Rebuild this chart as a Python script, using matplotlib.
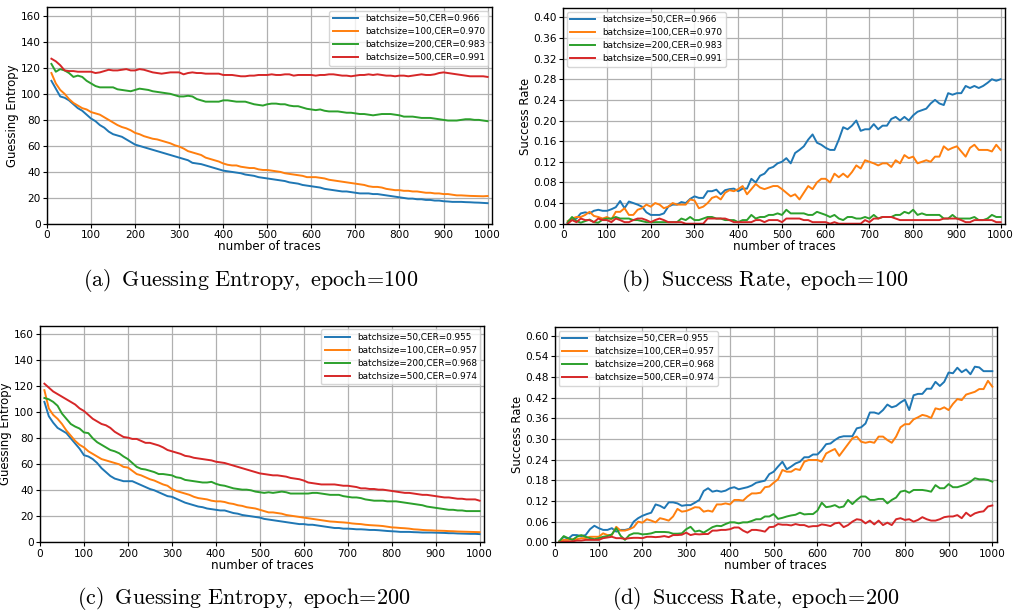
import matplotlib
matplotlib.use("Agg")
import matplotlib.pyplot as plt
import numpy as np

# number of traces (every 10 traces)
traces = np.arange(10, 1001, 10)

# ---- (a) guessing entropy, epoch=100
ge100_bs50 = [110, 104, 98, 97, 95, 92, 89, 87, 84, 81, 79, 76, 74, 71, 69, 68, 67, 65, 63, 61,
              60, 59, 58, 57, 56, 55, 54, 53, 52, 51, 50, 49, 47, 46.5, 46, 45, 44, 43, 42, 41,
              40.5, 40, 39.5, 39, 38, 37.5, 37, 36, 35.5, 35, 34.5, 34, 33.5, 33, 32, 31.5, 31, 30, 29.5, 29,
              28.5, 28, 27, 26.5, 26, 25.5, 25, 25, 24.5, 24, 23.5, 23.5, 23.5, 23, 23, 22.5, 22, 21.5, 21, 20.5,
              20, 19.5, 19.5, 19, 19, 18.5, 18.5, 18, 18, 17.5, 17.3, 17, 17, 17, 16.8, 16.7, 16.5, 16.4, 16.2, 16]
ge100_bs100 = [116, 108, 103, 100, 96, 93, 91, 89, 88, 86, 85, 84, 82, 80, 78, 76, 74.5, 73.5, 72, 70,
               69, 67.5, 66.5, 65.5, 65, 64, 63, 62, 60.5, 59.5, 58, 56, 55, 54, 53, 51, 50, 49, 48, 46.5,
               45.5, 45, 45, 44, 43.5, 43, 43, 42, 41.5, 41.5, 41, 40.5, 40, 39, 38.5, 38, 37.5, 37, 36, 36,
               36, 35.5, 35, 34, 33.5, 33, 32.5, 32, 31.5, 31, 30.5, 30, 29, 28.5, 28.5, 28, 27, 26.5, 26, 26,
               25.5, 25.5, 25, 25, 24.5, 24, 24, 23.5, 23.5, 23, 23, 22.5, 22, 22, 21.8, 21.6, 21.5, 21.4, 21.3, 21.5]
ge100_bs200 = [123, 117, 119, 118, 116, 113, 114, 113, 110, 108, 106, 105, 105, 105, 105, 103.5, 103, 102.5, 102, 103,
               104, 103.5, 103, 102, 101.5, 101, 100.5, 100, 99, 98, 98, 98.5, 98, 96, 95, 94, 94, 94, 94, 95,
               95, 94.5, 94, 94, 94, 93, 92, 91.5, 91, 92, 92.5, 92.5, 92, 92, 91, 90.5, 90.5, 89.5, 88.5, 88,
               87.5, 88, 87, 86.5, 86.5, 86.5, 86, 85.5, 85.5, 85, 84.5, 84.5, 84, 83.5, 84, 84.5, 84.5, 84.5, 84, 83.5,
               82.5, 82.5, 82.5, 82, 81.5, 81.5, 81.5, 81, 80.5, 80, 79.5, 79.5, 79.5, 80, 80.5, 80.5, 80, 80, 79.5, 79]
ge100_bs500 = [127, 125, 122, 118, 117.5, 117.5, 117, 117, 117, 117, 116, 116.5, 117.5, 118.5, 118, 118, 118.5, 119, 118, 118,
               119, 118.5, 117.5, 116.5, 116, 115.5, 116, 116.5, 116.5, 116.5, 115, 116, 116.5, 116, 116, 115.5, 115.5, 115.5, 115.5, 114.5,
               114.5, 114.5, 114, 113.5, 113.5, 114, 114, 114.5, 114.5, 114.5, 115, 114.5, 114.5, 115, 115, 114, 114.5, 114.5, 114.5, 114.5,
               114, 114.5, 114.5, 115, 115, 114.5, 114, 114, 113.5, 114, 114.5, 114.5, 115, 114.5, 115, 114.5, 114, 114, 113.5, 114,
               114, 113.5, 114, 114.5, 115, 114.5, 114.5, 115, 116, 116.5, 116, 115.5, 115, 114.5, 114, 113.5, 113.5, 113.5, 113.5, 113]

# ---- (b) success rate, epoch=100
sr100_bs50 = [0.002, 0.008, 0.010, 0.020, 0.022, 0.020, 0.025, 0.027, 0.025, 0.025, 0.028, 0.032, 0.044, 0.030, 0.043, 0.040, 0.037, 0.033, 0.022, 0.017,
              0.017, 0.017, 0.020, 0.033, 0.037, 0.037, 0.042, 0.040, 0.048, 0.053, 0.050, 0.050, 0.063, 0.063, 0.066, 0.057, 0.065, 0.067, 0.068, 0.063,
              0.068, 0.068, 0.087, 0.080, 0.093, 0.097, 0.107, 0.110, 0.117, 0.120, 0.127, 0.117, 0.137, 0.143, 0.150, 0.163, 0.173, 0.157, 0.153, 0.147,
              0.143, 0.143, 0.163, 0.187, 0.183, 0.190, 0.200, 0.180, 0.183, 0.183, 0.193, 0.183, 0.190, 0.190, 0.203, 0.207, 0.200, 0.207, 0.200, 0.210,
              0.217, 0.220, 0.223, 0.233, 0.240, 0.233, 0.230, 0.253, 0.250, 0.253, 0.253, 0.267, 0.263, 0.267, 0.263, 0.267, 0.273, 0.280, 0.277, 0.280]
sr100_bs100 = [0.005, 0.010, 0.013, 0.013, 0.017, 0.023, 0.015, 0.013, 0.010, 0.013, 0.008, 0.023, 0.023, 0.030, 0.017, 0.017, 0.027, 0.030, 0.037, 0.033,
               0.040, 0.037, 0.030, 0.033, 0.040, 0.037, 0.037, 0.037, 0.047, 0.045, 0.030, 0.033, 0.040, 0.050, 0.053, 0.047, 0.060, 0.065, 0.063, 0.067,
               0.073, 0.057, 0.067, 0.077, 0.070, 0.067, 0.070, 0.073, 0.073, 0.067, 0.060, 0.053, 0.057, 0.047, 0.060, 0.073, 0.067, 0.080, 0.087, 0.087,
               0.080, 0.097, 0.090, 0.097, 0.090, 0.100, 0.113, 0.107, 0.123, 0.120, 0.117, 0.113, 0.117, 0.117, 0.110, 0.123, 0.117, 0.133, 0.127, 0.130,
               0.117, 0.120, 0.123, 0.120, 0.130, 0.130, 0.150, 0.143, 0.147, 0.150, 0.140, 0.130, 0.147, 0.153, 0.143, 0.143, 0.143, 0.140, 0.153, 0.143]
sr100_bs200 = [0.003, 0.013, 0.005, 0.002, 0.005, 0.008, 0.003, 0.002, 0.008, 0.010, 0.010, 0.013, 0.010, 0.010, 0.010, 0.007, 0.007, 0.005, 0.003, 0.003,
               0.003, 0.003, 0.003, 0.003, 0.003, 0.003, 0.010, 0.007, 0.013, 0.007, 0.007, 0.010, 0.013, 0.013, 0.010, 0.010, 0.007, 0.007, 0.007, 0.003,
               0.007, 0.007, 0.017, 0.010, 0.013, 0.013, 0.017, 0.017, 0.020, 0.017, 0.027, 0.020, 0.020, 0.020, 0.020, 0.017, 0.017, 0.023, 0.020, 0.017,
               0.013, 0.017, 0.010, 0.007, 0.013, 0.013, 0.010, 0.010, 0.013, 0.010, 0.017, 0.010, 0.013, 0.013, 0.013, 0.017, 0.017, 0.023, 0.020, 0.027,
               0.017, 0.020, 0.017, 0.017, 0.017, 0.017, 0.010, 0.010, 0.017, 0.010, 0.010, 0.010, 0.010, 0.013, 0.007, 0.007, 0.010, 0.017, 0.013, 0.013]
sr100_bs500 = [0.000, 0.007, 0.003, 0.010, 0.007, 0.007, 0.003, 0.010, 0.007, 0.007, 0.003, 0.010, 0.007, 0.003, 0.003, 0.007, 0.010, 0.010, 0.007, 0.003,
               0.007, 0.010, 0.007, 0.003, 0.003, 0.003, 0.003, 0.000, 0.000, 0.000, 0.000, 0.000, 0.010, 0.010, 0.010, 0.010, 0.010, 0.007, 0.003, 0.003,
               0.003, 0.003, 0.003, 0.007, 0.007, 0.003, 0.007, 0.007, 0.007, 0.003, 0.010, 0.010, 0.010, 0.010, 0.007, 0.007, 0.003, 0.003, 0.003, 0.003,
               0.000, 0.003, 0.000, 0.000, 0.000, 0.000, 0.000, 0.000, 0.007, 0.003, 0.010, 0.010, 0.013, 0.013, 0.013, 0.010, 0.007, 0.007, 0.007, 0.007,
               0.007, 0.007, 0.007, 0.007, 0.007, 0.007, 0.010, 0.010, 0.010, 0.010, 0.007, 0.003, 0.003, 0.007, 0.007, 0.007, 0.007, 0.007, 0.003, 0.003]

# ---- (c) guessing entropy, epoch=200
ge200_bs50 = [108, 97, 92, 88, 86, 84, 80, 76, 72, 67, 66, 64, 61, 57, 54, 51, 49, 48, 47, 47,
              47, 45.5, 44, 42.5, 41, 40, 38.5, 37, 35.5, 35, 33.5, 32, 30.5, 29.5, 28.5, 27.5, 27, 26, 25.5, 25,
              24.5, 24.5, 23.5, 22.5, 22, 21, 20.5, 20, 19.5, 19, 18, 17.5, 17, 16.5, 16, 15.5, 15, 14.5, 14, 14,
              13.5, 13.5, 13, 12.5, 12, 11.5, 11, 11, 10.5, 10.5, 10.3, 10, 10, 9.8, 9.5, 9.5, 9.3, 9, 8.7, 8.5,
              8.3, 8, 8, 8, 7.8, 7.7, 7.5, 7.5, 7.5, 7.4, 7.3, 7.2, 7, 7, 6.8, 6.7, 6.6, 6.5, 6.5, 6.3]
ge200_bs100 = [117, 103, 98, 95, 91, 86, 82, 78, 75, 73, 70, 68, 66, 64, 63, 62, 61, 60, 58, 57.5,
               55, 52.5, 51.5, 50, 48.5, 47.5, 46, 44.5, 43.5, 41, 39.5, 38.5, 37.5, 36.5, 35, 34, 33.5, 33, 32, 31.5,
               31.5, 31, 30, 29.5, 28.5, 28, 27, 26.5, 26, 25, 24, 23, 23, 22.5, 22, 21, 20.5, 20, 19.5, 19,
               18.5, 18, 17.5, 17, 16.5, 16, 15.8, 15.5, 15.3, 15, 14.5, 14.2, 14, 13.5, 13.2, 13, 12.8, 12.5, 12, 11.5,
               11.3, 11, 10.8, 10.5, 10, 9.8, 9.5, 9.3, 9.2, 9, 8.9, 8.8, 8.6, 8.5, 8.3, 8.2, 8.1, 8, 7.9, 7.8]
ge200_bs200 = [111, 110, 108, 105, 99, 95, 91, 89, 87.5, 84.5, 84, 80, 77, 75, 73, 71, 70, 68.5, 66, 64,
               61, 58, 56.5, 56, 55, 54, 52.5, 52.5, 52, 51.5, 50, 49.5, 48, 47.5, 47, 46.5, 46, 46, 46.5, 45,
               44, 43.5, 42.5, 41.5, 41, 40.5, 40.5, 40, 39, 38.5, 38, 38.5, 38, 38.5, 39, 38.5, 37.5, 37.5, 37.5, 37.5,
               37.5, 38, 38, 37.5, 37, 36.5, 36.5, 36.5, 35.5, 35, 34.5, 34.5, 34, 33, 32.5, 32, 32, 32, 31.5, 31.5,
               31.5, 31, 30.5, 30, 29.5, 29, 28.5, 27.5, 27, 26.5, 26, 25.5, 25, 25, 24.5, 24.5, 24, 24, 24, 24]
ge200_bs500 = [122, 119, 116, 114, 112, 110, 108, 106, 103, 101, 98, 95, 93, 91, 90, 88, 85, 83, 81, 80.5,
               79.5, 79.5, 78, 76.5, 76.5, 75.5, 74.5, 73, 71, 70, 69, 68, 66.5, 66, 65, 64.5, 64, 63.5, 63, 62,
               61.5, 61, 60, 59, 58, 57, 56, 55, 54, 53, 52.5, 52, 51.5, 51.5, 51, 50.5, 49.5, 49, 48.5, 47.5,
               46, 45.5, 45, 44.5, 44.5, 44.5, 44.5, 44, 43.5, 43.5, 43, 42.5, 41.5, 41.5, 41, 41, 40.5, 40.5, 40, 39.5,
               39, 38.5, 38, 38, 37.5, 37, 36.5, 36.5, 36, 35.5, 35, 34.5, 34.5, 34, 33.5, 33.5, 33, 33, 33, 32]

# ---- (d) success rate, epoch=200
sr200_bs50 = [0.003, 0.016, 0.010, 0.021, 0.021, 0.018, 0.021, 0.038, 0.048, 0.041, 0.036, 0.036, 0.041, 0.031, 0.036, 0.036, 0.039, 0.060, 0.070, 0.077,
              0.082, 0.086, 0.110, 0.106, 0.099, 0.116, 0.116, 0.113, 0.106, 0.108, 0.108, 0.115, 0.123, 0.149, 0.157, 0.147, 0.150, 0.147, 0.150, 0.157,
              0.160, 0.154, 0.157, 0.160, 0.165, 0.173, 0.176, 0.179, 0.198, 0.205, 0.220, 0.234, 0.212, 0.220, 0.229, 0.234, 0.247, 0.247, 0.255, 0.255,
              0.268, 0.285, 0.287, 0.297, 0.305, 0.308, 0.308, 0.308, 0.331, 0.334, 0.345, 0.377, 0.377, 0.373, 0.384, 0.400, 0.392, 0.396, 0.406, 0.414,
              0.384, 0.427, 0.431, 0.431, 0.446, 0.446, 0.466, 0.454, 0.466, 0.493, 0.491, 0.507, 0.494, 0.502, 0.488, 0.510, 0.508, 0.497, 0.497, 0.497]
sr200_bs100 = [0.003, 0.007, 0.007, 0.009, 0.009, 0.012, 0.012, 0.016, 0.016, 0.016, 0.026, 0.021, 0.021, 0.045, 0.034, 0.034, 0.038, 0.044, 0.060, 0.057,
               0.067, 0.063, 0.058, 0.070, 0.067, 0.063, 0.075, 0.097, 0.089, 0.091, 0.096, 0.102, 0.101, 0.089, 0.092, 0.089, 0.110, 0.110, 0.113, 0.110,
               0.123, 0.123, 0.121, 0.133, 0.142, 0.142, 0.144, 0.160, 0.162, 0.173, 0.183, 0.210, 0.205, 0.205, 0.213, 0.210, 0.234, 0.239, 0.239, 0.239,
               0.234, 0.258, 0.265, 0.271, 0.251, 0.268, 0.285, 0.302, 0.307, 0.292, 0.289, 0.292, 0.289, 0.307, 0.307, 0.297, 0.289, 0.307, 0.334, 0.343,
               0.343, 0.357, 0.363, 0.370, 0.367, 0.361, 0.389, 0.386, 0.392, 0.384, 0.402, 0.416, 0.413, 0.429, 0.433, 0.437, 0.445, 0.445, 0.469, 0.452]
sr200_bs200 = [0.003, 0.018, 0.012, 0.007, 0.016, 0.021, 0.016, 0.012, 0.009, 0.012, 0.016, 0.018, 0.023, 0.041, 0.019, 0.007, 0.021, 0.026, 0.026, 0.023,
               0.024, 0.026, 0.030, 0.030, 0.030, 0.029, 0.025, 0.025, 0.026, 0.038, 0.045, 0.031, 0.034, 0.028, 0.036, 0.044, 0.048, 0.047, 0.053, 0.058,
               0.058, 0.055, 0.058, 0.058, 0.062, 0.067, 0.067, 0.075, 0.075, 0.082, 0.068, 0.071, 0.075, 0.078, 0.080, 0.086, 0.081, 0.082, 0.082, 0.092,
               0.115, 0.102, 0.104, 0.108, 0.101, 0.104, 0.123, 0.111, 0.123, 0.133, 0.133, 0.123, 0.123, 0.126, 0.126, 0.113, 0.123, 0.130, 0.147, 0.150,
               0.144, 0.152, 0.152, 0.152, 0.150, 0.147, 0.166, 0.157, 0.157, 0.169, 0.160, 0.160, 0.164, 0.169, 0.176, 0.186, 0.183, 0.183, 0.181, 0.176]
sr200_bs500 = [0.000, 0.002, 0.002, 0.003, 0.005, 0.005, 0.007, 0.007, 0.007, 0.007, 0.012, 0.014, 0.016, 0.012, 0.012, 0.010, 0.012, 0.013, 0.013, 0.012,
               0.016, 0.016, 0.015, 0.016, 0.018, 0.015, 0.021, 0.021, 0.022, 0.028, 0.021, 0.024, 0.023, 0.024, 0.024, 0.034, 0.034, 0.036, 0.036, 0.038,
               0.043, 0.043, 0.034, 0.028, 0.036, 0.036, 0.034, 0.031, 0.044, 0.045, 0.053, 0.051, 0.051, 0.049, 0.053, 0.050, 0.050, 0.045, 0.047, 0.047,
               0.052, 0.050, 0.047, 0.055, 0.057, 0.044, 0.050, 0.060, 0.067, 0.065, 0.055, 0.063, 0.052, 0.063, 0.050, 0.057, 0.050, 0.067, 0.070, 0.065,
               0.067, 0.060, 0.065, 0.073, 0.067, 0.063, 0.063, 0.067, 0.073, 0.075, 0.075, 0.079, 0.070, 0.086, 0.076, 0.084, 0.088, 0.090, 0.104, 0.107]

labels_e100 = ["batchsize=50,CER=0.966", "batchsize=100,CER=0.970",
               "batchsize=200,CER=0.983", "batchsize=500,CER=0.991"]
labels_e200 = ["batchsize=50,CER=0.955", "batchsize=100,CER=0.957",
               "batchsize=200,CER=0.968", "batchsize=500,CER=0.974"]

captions = ["(a)\\;\\;Guessing\\ Entropy,\\ epoch\\!=\\!100",
            "(b)\\;\\;Success\\ Rate,\\ epoch\\!=\\!100",
            "(c)\\;\\;Guessing\\ Entropy,\\ epoch\\!=\\!200",
            "(d)\\;\\;Success\\ Rate,\\ epoch\\!=\\!200"]

plt.rcParams["mathtext.fontset"] = "cm"
plt.rcParams["font.family"] = "DejaVu Sans"

W, H = 1013, 614
fig = plt.figure(figsize=(W / 100, H / 100), dpi=100)


def box(left, right, top, bottom):
    return [left / W, 1 - bottom / H, (right - left) / W, (bottom - top) / H]


def panel(rect, series, labels, ylabel, ylim, yticks, loc):
    ax = fig.add_axes(rect)
    for s, lab in zip(series, labels):
        ax.plot(traces, s, lw=1.4, label=lab)
    ax.set_xlim(0, 1010)
    ax.set_ylim(*ylim)
    ax.set_xticks(range(0, 1001, 100))
    ax.set_yticks(yticks)
    ax.grid(True, color="#b0b0b0", lw=0.9)
    ax.tick_params(labelsize=7.6, length=3, pad=1.5)
    ax.set_xlabel("number of traces", fontsize=8.6, labelpad=0)
    ax.set_ylabel(ylabel, fontsize=8.4, labelpad=1)
    for sp in ax.spines.values():
        sp.set_linewidth(1.0)
    ax.legend(loc=loc, fontsize=6.4, handlelength=2.8, borderaxespad=0.4,
              labelspacing=0.45, framealpha=0.8)
    return ax


ge_ticks = list(range(0, 161, 20))

ax_a = panel(box(47, 492, 7.3, 224), [ge100_bs50, ge100_bs100, ge100_bs200, ge100_bs500],
             labels_e100, "Guessing Entropy", (0, 166.5), ge_ticks, "upper right")
ax_b = panel(box(563.3, 1005, 8.3, 223.7), [sr100_bs50, sr100_bs100, sr100_bs200, sr100_bs500],
             labels_e100, "Success Rate", (0, 0.4175), np.round(np.arange(0, 0.41, 0.04), 2), "upper left")
ax_b.yaxis.set_major_formatter(matplotlib.ticker.FormatStrFormatter("%.2f"))
ax_c = panel(box(40, 484, 325.7, 542.3), [ge200_bs50, ge200_bs100, ge200_bs200, ge200_bs500],
             labels_e200, "Guessing Entropy", (0, 166.6), ge_ticks, "upper right")
ax_d = panel(box(555, 996.7, 327.3, 542.3), [sr200_bs50, sr200_bs100, sr200_bs200, sr200_bs500],
             labels_e200, "Success Rate", (0, 0.6244), np.round(np.arange(0, 0.61, 0.06), 2), "upper left")
ax_d.yaxis.set_major_formatter(matplotlib.ticker.FormatStrFormatter("%.2f"))

cap_pos = [(251, 280), (765, 280), (244, 598), (756, 598)]
for (cx, cy), cap in zip(cap_pos, captions):
    fig.text(cx / W, 1 - cy / H, "$\\mathrm{" + cap + "}$", fontsize=15.9,
             ha="center", va="center")

fig.savefig("out.png", dpi=100)
